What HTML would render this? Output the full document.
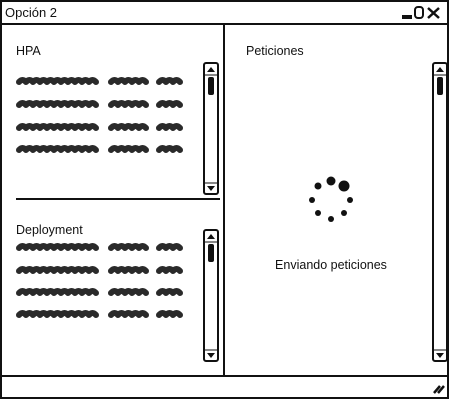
<!DOCTYPE html>
<html><head><meta charset="utf-8"><style>
body{margin:0;width:450px;height:400px;background:#fff;overflow:hidden}
svg{display:block}
text{font-family:"Liberation Sans",sans-serif;fill:#111}
</style></head><body>
<svg width="450" height="400" viewBox="0 0 450 400">
<rect x="1" y="1" width="447" height="397" fill="#fff" stroke="#111" stroke-width="2"/>
<line x1="1" y1="24" x2="448" y2="24" stroke="#111" stroke-width="2"/>
<text x="5" y="17" font-size="13">Opción 2</text>
<g>
<rect x="402" y="15" width="10" height="4" fill="#111"/>
<rect x="415" y="7" width="8" height="11" rx="3" fill="none" stroke="#111" stroke-width="2"/>
<path d="M428 8 L439 18 M439 8 L428 18" stroke="#111" stroke-width="2.5"/>
</g>
<line x1="224" y1="24" x2="224" y2="376" stroke="#111" stroke-width="2"/>
<line x1="16" y1="199" x2="220" y2="199" stroke="#111" stroke-width="2"/>
<line x1="1" y1="376" x2="448" y2="376" stroke="#111" stroke-width="2"/>
<path d="M434 393 L440 386 M438 393 L444 386" stroke="#111" stroke-width="2.5"/>
<text x="16" y="55" font-size="12.5">HPA</text>
<text x="16" y="234" font-size="12.5">Deployment</text>
<text x="246" y="55" font-size="12.5">Peticiones</text>
<g id="scribbles"></g>
<g>
<rect x="204" y="63" width="14" height="131" rx="2" fill="#fff" stroke="#111" stroke-width="2"/>
<path d="M207 72 L215 72 L211 67Z M207 186 L215 186 L211 191Z" fill="#111"/>
<line x1="204" y1="75" x2="218" y2="75" stroke="#111"/><line x1="204" y1="183" x2="218" y2="183" stroke="#111"/>
<rect x="208" y="77" width="6" height="18" rx="2" fill="#111"/>
</g>
<g>
<rect x="204" y="230" width="14" height="131" rx="2" fill="#fff" stroke="#111" stroke-width="2"/>
<path d="M207 239 L215 239 L211 234Z M207 353 L215 353 L211 358Z" fill="#111"/>
<line x1="204" y1="242" x2="218" y2="242" stroke="#111"/><line x1="204" y1="350" x2="218" y2="350" stroke="#111"/>
<rect x="208" y="244" width="6" height="18" rx="2" fill="#111"/>
</g>
<g>
<rect x="433" y="63" width="14" height="298" rx="2" fill="#fff" stroke="#111" stroke-width="2"/>
<path d="M436 72 L444 72 L440 67Z M436 353 L444 353 L440 358Z" fill="#111"/>
<line x1="433" y1="75" x2="447" y2="75" stroke="#111"/><line x1="433" y1="350" x2="447" y2="350" stroke="#111"/>
<rect x="437" y="77" width="6" height="18" rx="2" fill="#111"/>
</g>
<g fill="#111">
<circle cx="331" cy="181" r="4.5"/><circle cx="344" cy="186" r="5.5"/>
<circle cx="318" cy="186" r="3.5"/><circle cx="312" cy="200" r="3"/>
<circle cx="350" cy="200" r="3"/><circle cx="318" cy="213" r="3"/>
<circle cx="331" cy="219" r="3"/><circle cx="344" cy="213" r="3"/>
</g>
<text x="331" y="269" font-size="12.5" text-anchor="middle">Enviando peticiones</text>
</svg>
<script>
const rowsY=[81,104,127,149,247,270,292,314];
const segs=[[19,100],[111,148],[159,185]];
const g=document.getElementById('scribbles');
rowsY.forEach(y=>{segs.forEach(s=>{
  let d='M'+s[0]+' '+(y+1);
  for(let x=s[0];x+7<=s[1]+1;x+=7){d+=' Q'+(x+3.5)+' '+(y-3)+' '+(x+7)+' '+(y+1);}
  const p=document.createElementNS('http://www.w3.org/2000/svg','path');
  p.setAttribute('d',d);p.setAttribute('fill','none');p.setAttribute('stroke','#2a2a2a');
  p.setAttribute('stroke-width','6');p.setAttribute('stroke-linecap','round');p.setAttribute('stroke-linejoin','round');
  
  
  g.appendChild(p);
});});
</script>
</body></html>
